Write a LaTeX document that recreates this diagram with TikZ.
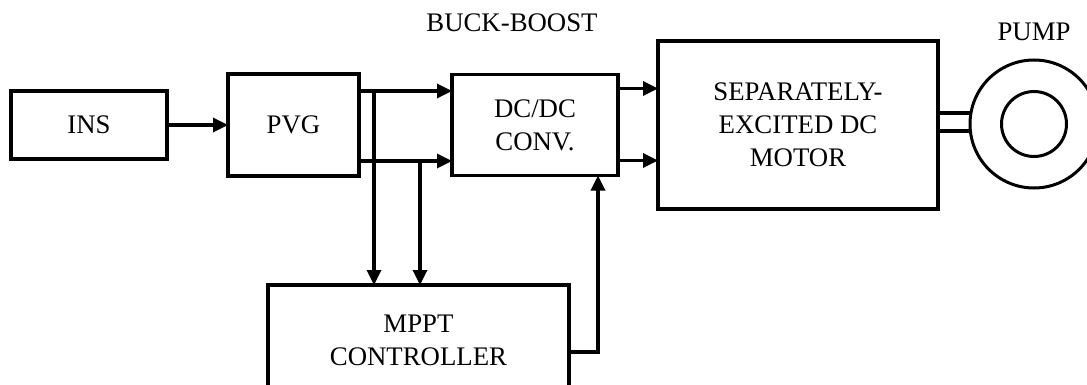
\documentclass[tikz,border=0pt]{standalone}
\usepackage{fontspec}
\setmainfont{Liberation Serif}
\usetikzlibrary{arrows.meta,positioning}

\begin{document}
\begin{tikzpicture}[x=0.5pt,y=-0.5pt,>={Triangle[length=7.5pt,width=7pt]},
font=\fontsize{13.4}{16.5}\selectfont,
box/.style={draw,line width=1.7pt,align=center,inner sep=0pt,outer sep=0pt},
lbl/.style={inner sep=0pt,anchor=south},
f/.style={->,line width=1.65pt},ring/.style={draw,circle,line width=1.5pt,inner sep=0pt,outer sep=0pt}]
\useasboundingbox (0,0) rectangle (1087,385);
\clip (0,0) rectangle (1087,385);
\node[box,minimum width=78pt,minimum height=34pt] (ins) at (89,125) {INS};
\node[box,minimum width=65.5pt,minimum height=51pt,right=30.5pt of ins] (pvg) {PVG};
\node[box,minimum width=83pt,minimum height=50.5pt,right=46.5pt of pvg] (dcdc) {DC/DC\\CONV.};
\node[box,minimum width=140pt,minimum height=84pt,right=20pt of dcdc] (motor) {SEPARATELY-\\EXCITED DC\\MOTOR};
\node[box,minimum width=150.5pt,minimum height=55pt] (mppt) at (418.5,340) {MPPT\\CONTROLLER};
\node[ring,minimum size=64pt] (pump) at (1034,124) {};
\node[ring,minimum size=32.5pt] (imp) at (pump.center) {};
\node[lbl,above=21.25pt of dcdc,xshift=-11.5pt] (bb) {BUCK-BOOST};
\node[lbl,above=9.25pt of pump] (pumplbl) {PUMP};
% power path
\draw[f] (ins)--(pvg);
\draw[f] ([yshift=-8.5pt]pvg.north east) coordinate (p1) -- (p1 -| dcdc.west);
\draw[f] ([yshift=7.5pt]pvg.south east) coordinate (p2) -- (p2 -| dcdc.west);
\draw[f] ([yshift=-7pt]dcdc.north east) coordinate (d1) -- (d1 -| motor.west);
\draw[f] ([yshift=7.5pt]dcdc.south east) coordinate (d2) -- (d2 -| motor.west);
% sensing and control
\draw[f] ([xshift=7.5pt]p1) coordinate (s1) -- (s1 |- mppt.north);
\draw[f] ([xshift=30.5pt]p2) coordinate (s2) -- (s2 |- mppt.north);
\draw[f] ([yshift=-6pt]mppt.east) -| ([xshift=-10pt]dcdc.south east);
% shaft
\draw[line width=1.8pt] ([yshift=6pt]motor.east) coordinate (m1) -- (m1 -| pump.west)
  ([yshift=-3pt]motor.east) coordinate (m2) -- (m2 -| pump.west);
\end{tikzpicture}
\end{document}
